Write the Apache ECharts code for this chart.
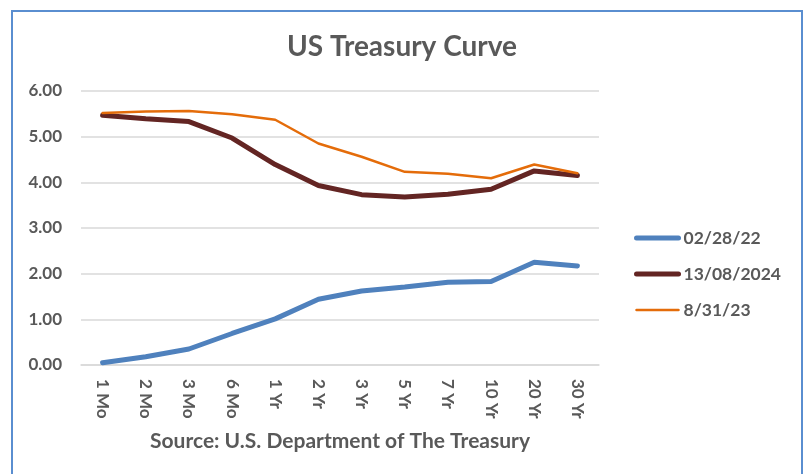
<!DOCTYPE html>
<html>
<head>
<meta charset="utf-8">
<script src="https://cdn.jsdelivr.net/npm/echarts@6/dist/echarts.min.js"></script>
<style>
  html, body { margin: 0; padding: 0; background: #fff; }
  #chart { width: 804px; height: 474px; }
</style>
</head>
<body>
<div id="chart"></div>
<script>
    const maturities = ['1 Mo', '2 Mo', '3 Mo', '6 Mo', '1 Yr', '2 Yr', '3 Yr', '5 Yr', '7 Yr', '10 Yr', '20 Yr', '30 Yr'];
    const yieldsFeb22 = [0.05, 0.18, 0.35, 0.69, 1.01, 1.44, 1.62, 1.71, 1.81, 1.83, 2.25, 2.17];
    const yieldsAug24 = [5.47, 5.39, 5.33, 4.97, 4.39, 3.93, 3.73, 3.68, 3.74, 3.85, 4.25, 4.15];
    const yieldsAug23 = [5.52, 5.55, 5.56, 5.49, 5.37, 4.85, 4.56, 4.23, 4.19, 4.09, 4.39, 4.20];
    const yTicks = [0, 1, 2, 3, 4, 5, 6];

    const font = 'Lato, "Open Sans", sans-serif';
    const grey = '#595959';

    const seriesDefs = [
        {name: '02/28/22', data: yieldsFeb22, color: '#4f81bd', width: 5},
        {name: '13/08/2024', data: yieldsAug24, color: '#632523', width: 5},
        {name: '8/31/23', data: yieldsAug23, color: '#e46c0a', width: 2.5}
    ];

    const chart = echarts.init(document.getElementById('chart'));

    chart.setOption({
        animation: false,
        backgroundColor: '#ffffff',
        textStyle: {
            fontFamily: font
        },
        graphic: [{
            type: 'rect',
            shape: {x: 12, y: 11, width: 790, height: 500},
            style: {fill: 'none', stroke: '#5a8ed0', lineWidth: 2}
        }],
        title: {
            text: 'US Treasury Curve',
            left: 'center',
            top: 28,
            textStyle: {
                fontFamily: font,
                fontSize: 28,
                fontWeight: 'bold',
                color: grey
            }
        },
        legend: {
            orient: 'vertical',
            left: 629,
            top: 224,
            itemWidth: 42,
            itemHeight: 18,
            itemGap: 18,
            itemStyle: {opacity: 0},
            data: seriesDefs.map(s => ({
                name: s.name,
                lineStyle: {width: s.width, color: s.color, cap: 'round'}
            })),
            textStyle: {
                fontFamily: font,
                fontSize: 17.5,
                fontWeight: 'bold',
                color: grey
            }
        },
        grid: {
            left: 81,
            right: 205,
            top: 91,
            bottom: 109
        },
        xAxis: {
            type: 'category',
            data: maturities,
            boundaryGap: true,
            name: 'Source: U.S. Department of The Treasury',
            nameLocation: 'middle',
            nameGap: 66,
            nameTextStyle: {
                fontFamily: font,
                fontSize: 21,
                fontWeight: 'bold',
                color: grey
            },
            axisLine: {lineStyle: {color: '#d9d9d9', width: 1.5}},
            axisTick: {show: false},
            axisLabel: {
                rotate: -90,
                margin: 14,
                fontFamily: font,
                fontSize: 17,
                fontWeight: 'bold',
                color: grey
            }
        },
        yAxis: {
            type: 'value',
            min: yTicks[0],
            max: yTicks[yTicks.length - 1],
            interval: 1,
            axisLine: {show: false},
            axisTick: {show: false},
            splitLine: {lineStyle: {color: '#d9d9d9', width: 1.5}},
            axisLabel: {
                margin: 19,
                fontFamily: font,
                fontSize: 17,
                fontWeight: 'bold',
                color: grey,
                formatter: v => v.toFixed(2)
            }
        },
        series: seriesDefs.map(s => ({
            name: s.name,
            type: 'line',
            data: s.data,
            symbol: 'none',
            color: s.color,
            lineStyle: {width: s.width, color: s.color, cap: 'round'}
        }))
    });
</script>
</body>
</html>
